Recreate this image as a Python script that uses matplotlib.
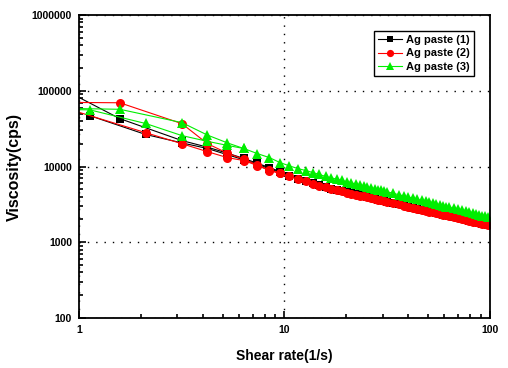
import matplotlib
matplotlib.use("Agg")
import matplotlib.pyplot as plt
from matplotlib.ticker import LogLocator, FixedLocator, FixedFormatter, NullFormatter

plt.rcParams['font.family'] = ['Liberation Sans', 'DejaVu Sans']

# shear rates of the dense part (1/s)
shear_dense = [10.56, 11.62, 12.67, 13.73, 14.78, 15.84, 16.90, 17.95, 19.01, 20.06,
               21.12, 22.18, 23.23, 24.29, 25.34, 26.40, 27.46, 28.51, 29.57, 30.62,
               31.68, 33.79, 35.90, 38.02, 40.13, 42.24, 44.35, 46.46, 48.58, 50.69,
               52.80, 54.91, 57.02, 59.14, 61.25, 63.36, 66.53, 69.70, 72.86, 76.03,
               79.20, 82.37, 85.54, 88.70, 91.87, 95.04, 98.21]

visc1_dense = [7450, 6900, 6400, 5990, 5640, 5320, 5080, 4890, 4720, 4560,
               4420, 4280, 4160, 4050, 3940, 3840, 3750, 3660, 3580, 3500,
               3430, 3290, 3170, 3060, 2960, 2860, 2780, 2700, 2620, 2550,
               2490, 2430, 2370, 2320, 2270, 2220, 2150, 2090, 2040, 1980,
               1930, 1890, 1840, 1800, 1760, 1720, 1690]
visc2_dense = [7400, 6850, 6350, 5950, 5600, 5290, 5050, 4863, 4692, 4537,
               4393, 4261, 4139, 4025, 3920, 3821, 3728, 3642, 3560, 3483,
               3410, 3275, 3153, 3042, 2941, 2849, 2763, 2684, 2610, 2542,
               2478, 2418, 2362, 2308, 2258, 2211, 2144, 2083, 2026, 1973,
               1923, 1877, 1833, 1792, 1753, 1716, 1681]
visc3_dense = [10200, 9400, 8860, 8330, 7850, 7400, 7083, 6799, 6539, 6305,
               6089, 5889, 5707, 5537, 5380, 5233, 5095, 4967, 4845, 4732,
               4624, 4426, 4248, 4085, 3938, 3804, 3680, 3566, 3459, 3361,
               3269, 3183, 3103, 3027, 2956, 2889, 2794, 2707, 2627, 2552,
               2483, 2418, 2356, 2299, 2245, 2194, 2145]

# low shear part, two sweeps per paste
shear1_a = [0.53, 1.58, 3.17, 4.22, 5.28, 6.33, 7.39, 8.45, 9.50]
visc1_a = [200000, 42900, 22000, 18000, 15000, 12800, 11000, 9700, 8600]
shear1_b = [1.13, 2.11, 3.17, 4.22, 5.28, 6.33, 7.39, 8.45, 9.50]
visc1_b = [46900, 26500, 20500, 17300, 14300, 12300, 10700, 9400, 8400]

shear2_a = [0.53, 1.58, 3.17, 4.22, 5.28, 6.33, 7.39, 8.45, 9.50]
visc2_a = [71000, 69500, 36800, 20000, 15000, 12500, 10500, 9000, 8200]
shear2_b = [0.53, 2.11, 3.17, 4.22, 5.28, 6.33, 7.39, 8.45, 9.50]
visc2_b = [88000, 28000, 20000, 15700, 13100, 12000, 10300, 8850, 8100]

shear3_a = [0.53, 1.58, 3.17, 4.22, 5.28, 6.33, 7.39, 8.45, 9.50]
visc3_a = [60000, 57000, 38000, 26000, 20500, 17300, 14800, 13100, 11300]
shear3_b = [0.53, 1.13, 2.11, 3.17, 4.22, 5.28, 6.33]
visc3_b = [58000, 56000, 37000, 25600, 21500, 19000, 17300]

labels = ['Ag paste (1)', 'Ag paste (2)', 'Ag paste (3)']
ytick_vals = [100, 1000, 10000, 100000, 1000000]
xtick_vals = [1, 10, 100]

fig = plt.figure(figsize=(5.08, 3.68), dpi=100)
ax = fig.add_axes([0.1555, 0.136, 0.809, 0.823])

styles = [
    dict(color='black', marker='s', ms=5.5),
    dict(color='red', marker='o', ms=6.5),
    dict(color='#00ee00', marker='^', ms=7),
]
sets = [
    (shear1_a, visc1_a, shear1_b, visc1_b, visc1_dense),
    (shear2_a, visc2_a, shear2_b, visc2_b, visc2_dense),
    (shear3_a, visc3_a, shear3_b, visc3_b, visc3_dense),
]
for (xa, ya, xb, yb, yd), st, lab in zip(sets, styles, labels):
    ax.plot(xb, yb, lw=0.8, mew=0, **st)
    ax.plot(xa + shear_dense, ya + yd, lw=0.8, mew=0, label=lab, **st)

ax.set_xscale('log')
ax.set_yscale('log')
ax.set_xlim(1, 100)
ax.set_ylim(100, 1000000)

ax.xaxis.set_major_locator(FixedLocator(xtick_vals))
ax.xaxis.set_major_formatter(FixedFormatter([str(v) for v in xtick_vals]))
ax.yaxis.set_major_locator(FixedLocator(ytick_vals))
ax.yaxis.set_major_formatter(FixedFormatter([str(v) for v in ytick_vals]))
ax.xaxis.set_minor_locator(LogLocator(base=10, subs=range(2, 10)))
ax.yaxis.set_minor_locator(LogLocator(base=10, subs=range(2, 10)))
ax.xaxis.set_minor_formatter(NullFormatter())
ax.yaxis.set_minor_formatter(NullFormatter())

ax.tick_params(which='both', direction='in', top=False, right=False, width=1.2)
ax.tick_params(which='major', length=5, labelsize=7.5, pad=5)
ax.tick_params(which='minor', length=3)
for lbl in ax.get_xticklabels() + ax.get_yticklabels():
    lbl.set_fontweight('bold')

for s in ax.spines.values():
    s.set_linewidth(1.3)

ax.grid(True, which='major', color='black', linestyle=(0, (1, 5)), linewidth=1)

ax.set_xlabel('Shear rate(1/s)', fontsize=10, fontweight='bold', labelpad=10)
ax.set_ylabel('Viscosity(cps)', fontsize=11.5, fontweight='bold', labelpad=7)

leg = ax.legend(loc='upper right', bbox_to_anchor=(0.975, 0.965), fancybox=False,
                framealpha=1, edgecolor='black', prop={'size': 8, 'weight': 'bold'},
                handlelength=2.2, handletextpad=0.4, borderpad=0.35, labelspacing=0.3,
                markerscale=0.8)
leg.get_frame().set_linewidth(1)

fig.savefig('out.png', dpi=100)
